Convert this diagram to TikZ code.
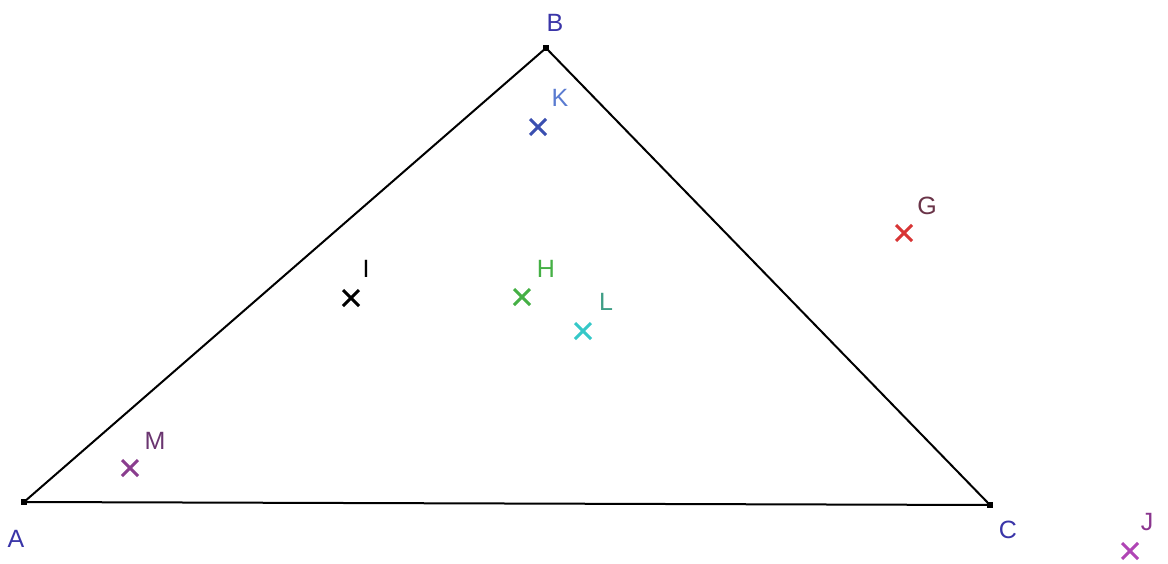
\documentclass[tikz,border=0pt]{standalone}
\usepackage{fontspec}
\setmainfont{Liberation Sans}
\definecolor{ptlab}{HTML}{3A35A8}
\definecolor{klab}{HTML}{5A7BD0}
\definecolor{kx}{HTML}{3A4FB0}
\definecolor{glab}{HTML}{6A3448}
\definecolor{gx}{HTML}{D83535}
\definecolor{hcol}{HTML}{45B045}
\definecolor{llab}{HTML}{3F9E86}
\definecolor{lx}{HTML}{35C8C8}
\definecolor{mlab}{HTML}{6A3570}
\definecolor{mx}{HTML}{8A3D8E}
\definecolor{jlab}{HTML}{8A358E}
\definecolor{jx}{HTML}{B045B5}
\tikzset{
  vtx/.style={fill=black,inner sep=0pt,minimum size=6pt,rectangle},
  lab/.style={font=\fontsize{25}{27}\selectfont,inner sep=0pt},
  xmark/.style={line width=3pt},
}
\newcommand{\crossat}[3]{%
  \draw[xmark,#3] ($(#1)+(-8,-8)$) -- ($(#1)+(8,8)$);
  \draw[xmark,#3] ($(#1)+(-8,8)$) -- ($(#1)+(8,-8)$);}
\usetikzlibrary{calc}
\begin{document}
\begin{tikzpicture}[x=1pt,y=-1pt]
\useasboundingbox (0,0) rectangle (1168,563);
\coordinate (A) at (24,502);
\coordinate (B) at (546,48);
\coordinate (C) at (990,505);
\draw[line width=2pt] (A) -- (B) -- (C) -- cycle;
\node[vtx] at (A) {};
\node[vtx] at (B) {};
\node[vtx] at (C) {};
\node[lab,text=ptlab] (lA) at (16,539) {A};
\node[lab,text=ptlab] (lB) at (555,23) {B};
\node[lab,text=ptlab] (lC) at (1008,530) {C};
\coordinate (K) at (538,127);
\coordinate (G) at (904,233);
\coordinate (I) at (351,298);
\coordinate (H) at (522,297);
\coordinate (L) at (583,331);
\coordinate (M) at (130,468);
\coordinate (J) at (1130,551);
\crossat{K}{}{kx}
\crossat{G}{}{gx}
\crossat{I}{}{black}
\crossat{H}{}{hcol}
\crossat{L}{}{lx}
\crossat{M}{}{mx}
\crossat{J}{}{jx}
\node[lab,text=klab] (lK) at (560,98) {K};
\node[lab,text=glab] (lG) at (927,206) {G};
\node[lab,text=black] (lI) at (366,269) {I};
\node[lab,text=hcol] (lH) at (546,269) {H};
\node[lab,text=llab] (lL) at (606,302) {L};
\node[lab,text=mlab] (lM) at (155,441) {M};
\node[lab,text=jlab] (lJ) at (1147,522) {J};
\end{tikzpicture}
\end{document}
